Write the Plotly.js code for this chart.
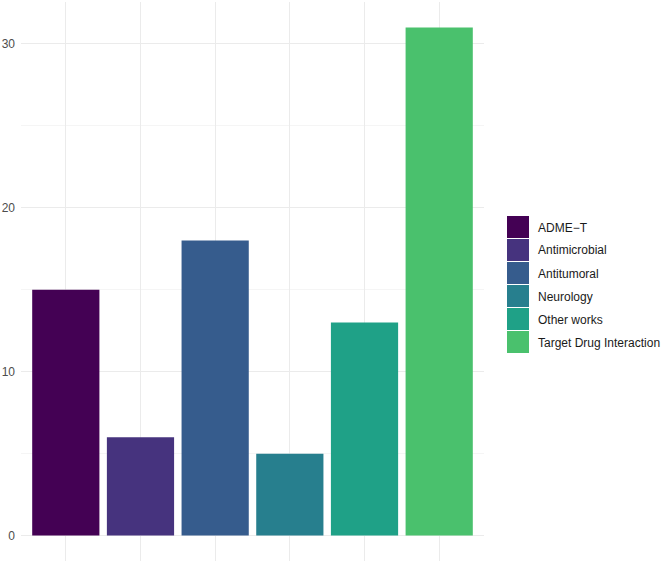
<!DOCTYPE html>
<html>
<head>
<meta charset="utf-8">
<script src="https://cdn.plot.ly/plotly-3.0.1.min.js"></script>
<style>html,body{margin:0;padding:0;background:#fff;}#chart{width:661px;height:563px;}</style>
</head>
<body>
<div id="chart"></div>
<script>
const categories = ["ADME\u2212T", "Antimicrobial", "Antitumoral", "Neurology", "Other works", "Target Drug Interaction"];
const counts = [15, 6, 18, 5, 13, 31];
const colors = ["#440154", "#46337E", "#365C8D", "#277F8E", "#1FA187", "#4AC16D"];
const yTicks = [0, 10, 20, 30];

const W = 661, H = 563;
const margin = {l: 21, r: 177, t: 2, b: 2};
const plotW = W - margin.l - margin.r;
const plotH = H - margin.t - margin.b;

const trace = {
  type: "bar",
  x: categories,
  y: counts,
  width: 0.9,
  marker: {color: colors, line: {width: 0}},
  showlegend: false,
  hoverinfo: "x+y"
};

// custom ggplot-like legend
const shapes = [];
const annotations = [];
const swX0 = 507, swX1 = 529, rowTop = 216, rowH = 23;
const px2x = p => (p - margin.l) / plotW;
const py2y = p => 1 - (p - margin.t) / plotH;
categories.forEach((c, i) => {
  const top = rowTop + i * rowH;
  shapes.push({
    type: "rect", xref: "paper", yref: "paper",
    x0: px2x(swX0), x1: px2x(swX1),
    y0: py2y(top + 22), y1: py2y(top),
    fillcolor: colors[i], line: {width: 0}
  });
  annotations.push({
    xref: "paper", yref: "paper",
    x: px2x(536), y: py2y(top + 11.5),
    xanchor: "left", yanchor: "middle",
    text: c, showarrow: false,
    font: {family: "Liberation Sans, Arial, sans-serif", size: 12, color: "#1a1a1a"}
  });
});

const layout = {
  width: W, height: H,
  margin: margin,
  paper_bgcolor: "#fff",
  plot_bgcolor: "#fff",
  showlegend: false,
  font: {family: "Liberation Sans, Arial, sans-serif", size: 12, color: "#4d4d4d"},
  xaxis: {
    type: "category",
    range: [-0.6, categories.length - 0.4],
    showticklabels: false,
    showgrid: true, gridcolor: "#ebebeb", gridwidth: 1,
    zeroline: false, showline: false, ticks: ""
  },
  yaxis: {
    range: [-1.55, 32.55],
    tickvals: yTicks,
    ticktext: yTicks.map(String),
    showgrid: true, gridcolor: "#ebebeb", gridwidth: 1,
    minor: {dtick: 5, tick0: 0, showgrid: true, gridcolor: "#f5f5f5", gridwidth: 1},
    zeroline: false, showline: false, ticks: "",
    ticklabelstandoff: 5,
    tickfont: {size: 12, color: "#4d4d4d"}
  },
  shapes: shapes,
  annotations: annotations
};

Plotly.newPlot("chart", [trace], layout, {displayModeBar: false, staticPlot: true});
</script>
</body>
</html>
